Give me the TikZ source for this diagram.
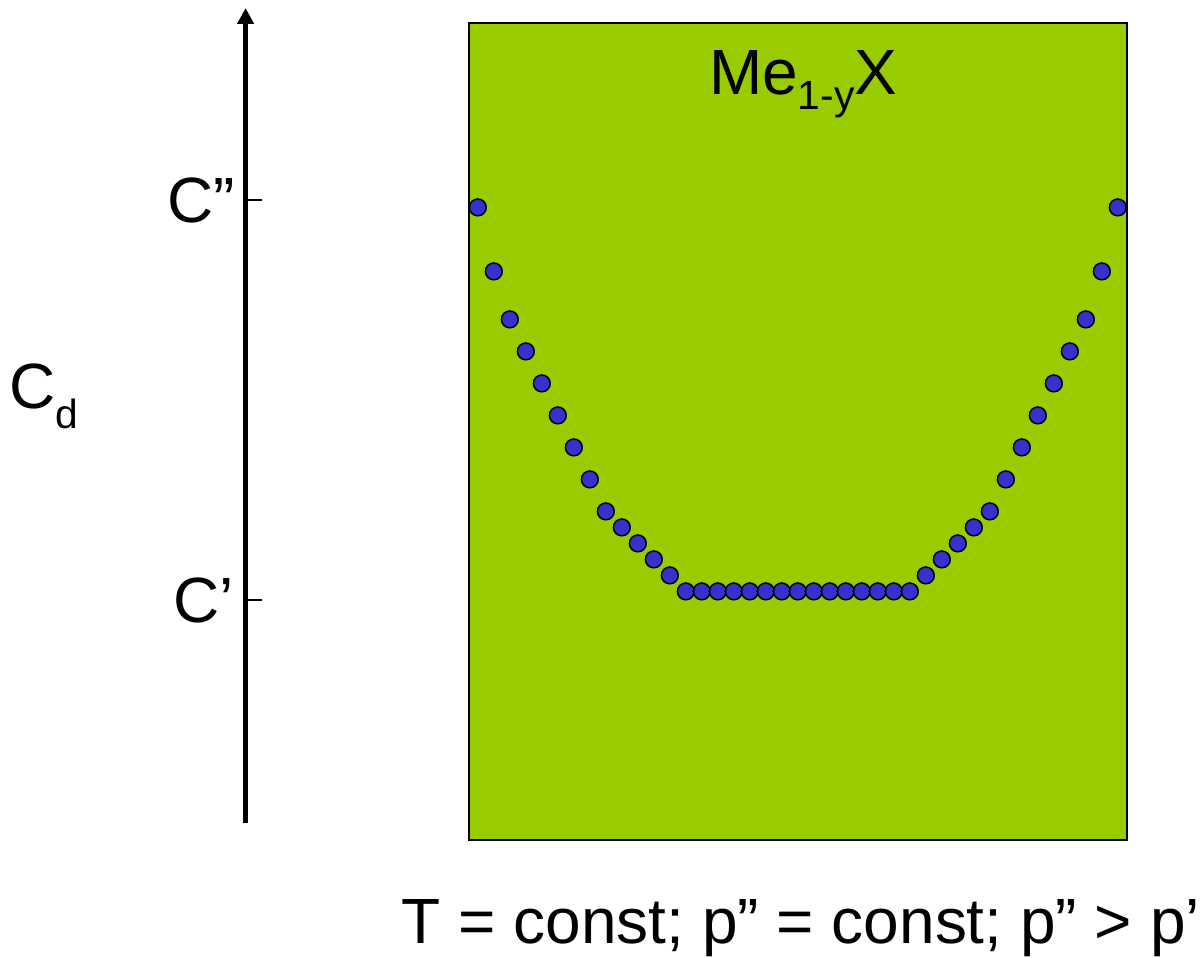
\documentclass[tikz,border=0pt]{standalone}
\usepackage{fontspec}
\setmainfont{Liberation Sans}
\usetikzlibrary{arrows.meta,positioning}
\definecolor{phgreen}{HTML}{99CC00}
\definecolor{phblue}{HTML}{3333CC}
\newcommand{\lowsub}[2]{\raisebox{-#1}{\fontsize{29}{31}\selectfont #2}}

\begin{document}
\begin{tikzpicture}[
  dot/.style={circle, draw=black, fill=phblue, line width=1.1pt,
              inner sep=0pt, minimum size=0.42cm},
  lbl/.style={font=\fontsize{45.5}{52}\selectfont, inner sep=0pt},
]
\useasboundingbox (0,0) rectangle (30.05,23.925);

%% ---- Achse C_d ----
\draw[-{Triangle[length=0.4cm,width=0.4cm]}, line width=0.13cm]
  (6.14,3.34) -- (6.14,23.725);
\draw[line width=0.06cm] (6.14,18.925) -- (6.54,18.925);
\draw[line width=0.06cm] (6.14,8.925) -- (6.54,8.925);

%% ---- Achsenbeschriftung ----
\node[lbl, anchor=base west] (cd) at (0.22,13.7) {C\lowsub{0.5cm}{d}};
\node[lbl, anchor=east] (cpp) at (5.87,18.925) {C”};
\node[lbl, anchor=east] (cp) at (5.85,8.925) {C’};

%% ---- Phase Me_{1-y}X ----
\draw[fill=phgreen, line width=0.05cm] (11.73,2.925) rectangle (28.17,23.36);
\node[lbl, anchor=base] (phase) at (20.08,21.55) {Me\lowsub{0.375cm}{1-y}X};

%% ---- Punkte: Plateau bei C' ----
\foreach \k in {-7,...,7}
  \node[dot] (f\k) at ({19.945+0.4*\k},9.14) {};

%% ---- Punkte: Anstieg links und rechts bis C'' ----
\foreach \h [count=\i] in {1,2,3,4,5,7,9,11,13,15,17,20,24} {
  \node[dot] (l\i) at ({19.945-2.8-0.4*\i},{9.14+0.4*\h}) {};
  \node[dot] (r\i) at ({19.945+2.8+0.4*\i},{9.14+0.4*\h}) {};
}

%% ---- Bedingungen ----
\node[lbl, anchor=base] (cond) at (20.02,0.35) {T = const; p” = const; p” > p’};

\end{tikzpicture}
\end{document}
